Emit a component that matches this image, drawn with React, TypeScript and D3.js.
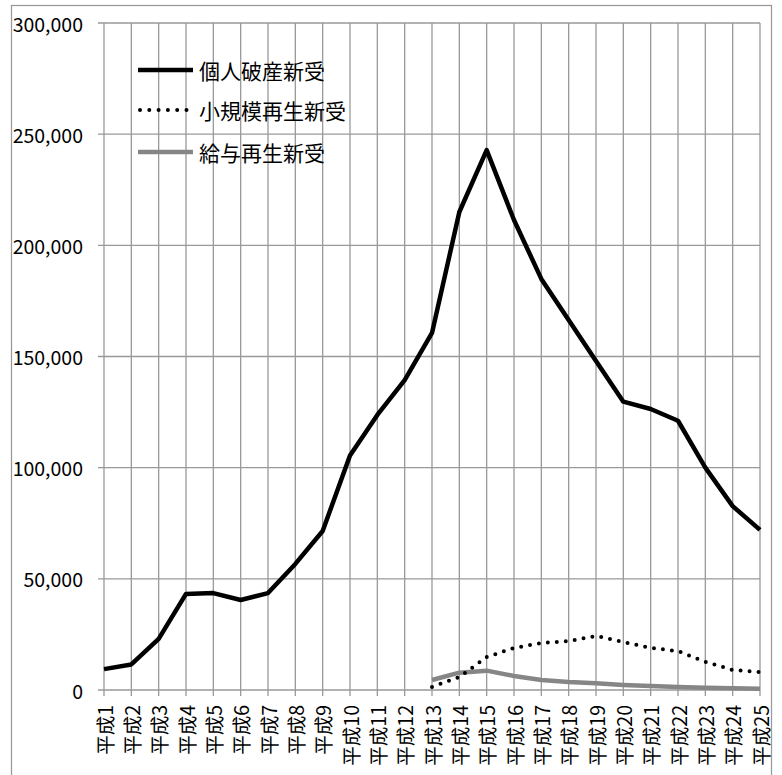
import React from "react";
import * as d3 from "d3";

const categories: string[] = Array.from({ length: 25 }, (_, i) => `平成${i + 1}`);

const bankruptcy: number[] = [
  9400, 11500, 23000, 43200, 43600, 40500, 43600, 56700, 71500, 105500,
  123700, 139400, 160600, 215000, 242800, 211400, 184900, 166400, 148000, 129700,
  126400, 121100, 100000, 82700, 72000,
];

const smallRehab: (number | null)[] = [
  null, null, null, null, null, null, null, null, null, null, null, null,
  1400, 5800, 14800, 18900, 21100, 22000, 24300, 21600, 18900, 17500, 12700, 9000, 8100,
];

const salaryRehab: (number | null)[] = [
  null, null, null, null, null, null, null, null, null, null, null, null,
  4500, 7800, 8700, 6300, 4500, 3600, 3000, 2300, 1800, 1300, 1000, 800, 600,
];

const yTicks: number[] = [0, 50000, 100000, 150000, 200000, 250000, 300000];

const seriesNames = ["個人破産新受", "小規模再生新受", "給与再生新受"];

const FONT = "'Noto Sans CJK JP', 'Noto Sans', sans-serif";

export default function App() {
  const W = 782;
  const H = 775;
  const left = 104;
  const right = 760;
  const top = 23;
  const bottom = 690;

  const x = d3
    .scalePoint<string>()
    .domain(categories)
    .range([left, right]);
  const y = d3.scaleLinear().domain([0, 300000]).range([bottom, top]);

  const line = d3
    .line<number | null>()
    .defined((d) => d !== null)
    .x((_, i) => x(categories[i]) as number)
    .y((d) => y(d as number));

  const fmt = d3.format(",");
  const grid = "#999";

  const legendY = [70, 110, 152];

  return (
    <svg
      width={W}
      height={H}
      style={{ position: "absolute", left: 0, top: 0, background: "#fff" }}
      fontFamily={FONT}
    >
      <rect x={0} y={0} width={W} height={H} fill="#fff" />
      {/* outer frame */}
      <rect x={11.5} y={5.5} width={760} height={780} fill="none" stroke={grid} strokeWidth={1.25} />

      {/* horizontal grid */}
      {yTicks.map((t) => (
        <line
          key={"h" + t}
          x1={left - 6}
          x2={right}
          y1={y(t)}
          y2={y(t)}
          stroke={grid}
          strokeWidth={1.3}
        />
      ))}
      {/* vertical grid */}
      {categories.map((c) => (
        <line
          key={"v" + c}
          x1={x(c)}
          x2={x(c)}
          y1={top}
          y2={bottom + 6}
          stroke={grid}
          strokeWidth={1.3}
        />
      ))}

      {/* y labels */}
      {yTicks.map((t) => (
        <text
          key={"yl" + t}
          x={83}
          y={y(t)}
          textAnchor="end"
          dominantBaseline="central"
          fontSize={19.5}
          fill="#000"
        >
          {fmt(t)}
        </text>
      ))}

      {/* x labels */}
      {categories.map((c) => (
        <text
          key={"xl" + c}
          transform={`translate(${x(c)},705) rotate(-90)`}
          textAnchor="end"
          dominantBaseline="central"
          fontSize={19.5}
          fill="#000"
        >
          {c}
        </text>
      ))}

      {/* series */}
      <path d={line(salaryRehab) || ""} fill="none" stroke="#868686" strokeWidth={4.5} strokeLinejoin="round" />
      <path
        d={line(smallRehab) || ""}
        fill="none"
        stroke="#000"
        strokeWidth={4}
        strokeDasharray="0 9"
        strokeLinecap="round"
      />
      <path d={line(bankruptcy) || ""} fill="none" stroke="#000" strokeWidth={4.5} strokeLinejoin="round" />

      {/* legend */}
      <line x1={138} x2={193} y1={legendY[0]} y2={legendY[0]} stroke="#000" strokeWidth={4.5} />
      <line
        x1={140}
        x2={193}
        y1={legendY[1]}
        y2={legendY[1]}
        stroke="#000"
        strokeWidth={4}
        strokeDasharray="0 9.3"
        strokeLinecap="round"
      />
      <line x1={138} x2={193} y1={legendY[2]} y2={legendY[2]} stroke="#868686" strokeWidth={4.5} />
      {seriesNames.map((n, i) => (
        <text
          key={"lg" + n}
          x={199}
          y={legendY[i]}
          dominantBaseline="central"
          fontSize={21}
          fill="#000"
        >
          {n}
        </text>
      ))}
    </svg>
  );
}
